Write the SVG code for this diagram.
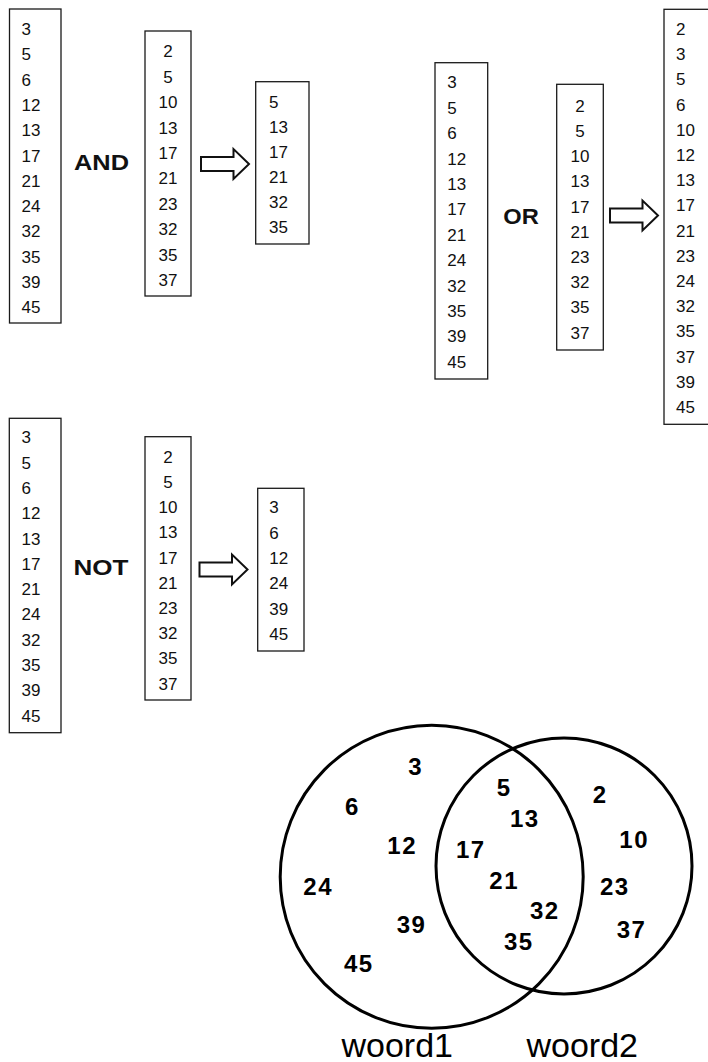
<svg xmlns="http://www.w3.org/2000/svg" xmlns:xlink="http://www.w3.org/1999/xlink" width="708" height="1062" viewBox="0 0 708 1062">
  <style>
    .box { fill: #fff; stroke: #1a1a1a; stroke-width: 1.3; }
    .num { font-family: "Liberation Sans", Arial, sans-serif; font-size: 17px; fill: #111; }
    .mid { text-anchor: middle; }
    .op { font-family: "Liberation Sans", Arial, sans-serif; font-size: 22px; font-weight: bold; fill: #111; }
    .arrow { fill: #fff; stroke: #111; stroke-width: 2; stroke-linejoin: miter; }
    .ring { fill: none; stroke: #000; stroke-width: 3; }
    .vn { font-family: "Liberation Sans", Arial, sans-serif; font-size: 24px; font-weight: bold; letter-spacing: 1.5px; fill: #000; }
    .lbl { font-family: "Liberation Sans", Arial, sans-serif; font-size: 34px; fill: #000; }
  </style>
  <defs>
    <!-- hollow block arrow, origin at the middle of the tail -->
    <path id="blockArrow" d="M0,-7 H32.5 V-15 L48,0 L32.5,15 V7 H0 Z"/>
  </defs>

  <rect width="708" height="1062" fill="#fff"/>

  <!-- AND -->
  <g id="and-list1">
    <rect class="box" x="9.5" y="9" width="51.5" height="314"/>
    <text class="num" x="21.5" y="35">3</text>
    <text class="num" x="21.5" y="60.3">5</text>
    <text class="num" x="21.5" y="85.6">6</text>
    <text class="num" x="21.5" y="110.9">12</text>
    <text class="num" x="21.5" y="136.2">13</text>
    <text class="num" x="21.5" y="161.5">17</text>
    <text class="num" x="21.5" y="186.8">21</text>
    <text class="num" x="21.5" y="212.1">24</text>
    <text class="num" x="21.5" y="237.4">32</text>
    <text class="num" x="21.5" y="262.7">35</text>
    <text class="num" x="21.5" y="288">39</text>
    <text class="num" x="21.5" y="313.3">45</text>
  </g>
  <g id="and-op">
    <text class="op" x="74" y="170" textLength="55" lengthAdjust="spacingAndGlyphs">AND</text>
  </g>
  <g id="and-list2">
    <rect class="box" x="145" y="31" width="46" height="265"/>
    <text class="num mid" x="168" y="57.3">2</text>
    <text class="num mid" x="168" y="82.7">5</text>
    <text class="num mid" x="168" y="108.1">10</text>
    <text class="num mid" x="168" y="133.5">13</text>
    <text class="num mid" x="168" y="158.9">17</text>
    <text class="num mid" x="168" y="184.3">21</text>
    <text class="num mid" x="168" y="209.7">23</text>
    <text class="num mid" x="168" y="235.1">32</text>
    <text class="num mid" x="168" y="260.5">35</text>
    <text class="num mid" x="168" y="285.9">37</text>
  </g>
  <g id="and-result">
    <rect class="box" x="255.7" y="81.7" width="53.3" height="162.3"/>
    <text class="num" x="269" y="107.7">5</text>
    <text class="num" x="269" y="132.8">13</text>
    <text class="num" x="269" y="157.9">17</text>
    <text class="num" x="269" y="183">21</text>
    <text class="num" x="269" y="208.1">32</text>
    <text class="num" x="269" y="233.2">35</text>
  </g>

  <!-- OR -->
  <g id="or-list1">
    <rect class="box" x="435" y="62.7" width="52.7" height="316.3"/>
    <text class="num" x="447.3" y="88.3">3</text>
    <text class="num" x="447.3" y="113.7">5</text>
    <text class="num" x="447.3" y="139.1">6</text>
    <text class="num" x="447.3" y="164.5">12</text>
    <text class="num" x="447.3" y="189.9">13</text>
    <text class="num" x="447.3" y="215.3">17</text>
    <text class="num" x="447.3" y="240.7">21</text>
    <text class="num" x="447.3" y="266.1">24</text>
    <text class="num" x="447.3" y="291.5">32</text>
    <text class="num" x="447.3" y="316.9">35</text>
    <text class="num" x="447.3" y="342.3">39</text>
    <text class="num" x="447.3" y="367.7">45</text>
  </g>
  <g id="or-op">
    <text class="op" x="503.3" y="224" textLength="35.5" lengthAdjust="spacingAndGlyphs">OR</text>
  </g>
  <g id="or-list2">
    <rect class="box" x="556.7" y="84.3" width="46.6" height="265.7"/>
    <text class="num mid" x="580" y="111.7">2</text>
    <text class="num mid" x="580" y="136.9">5</text>
    <text class="num mid" x="580" y="162.1">10</text>
    <text class="num mid" x="580" y="187.3">13</text>
    <text class="num mid" x="580" y="212.5">17</text>
    <text class="num mid" x="580" y="237.7">21</text>
    <text class="num mid" x="580" y="262.9">23</text>
    <text class="num mid" x="580" y="288.1">32</text>
    <text class="num mid" x="580" y="313.3">35</text>
    <text class="num mid" x="580" y="338.5">37</text>
  </g>
  <g id="or-result">
    <rect class="box" x="664" y="9.3" width="60" height="415"/>
    <text class="num" x="676" y="35">2</text>
    <text class="num" x="676" y="60.2">3</text>
    <text class="num" x="676" y="85.4">5</text>
    <text class="num" x="676" y="110.6">6</text>
    <text class="num" x="676" y="135.8">10</text>
    <text class="num" x="676" y="161">12</text>
    <text class="num" x="676" y="186.2">13</text>
    <text class="num" x="676" y="211.4">17</text>
    <text class="num" x="676" y="236.6">21</text>
    <text class="num" x="676" y="261.8">23</text>
    <text class="num" x="676" y="287">24</text>
    <text class="num" x="676" y="312.2">32</text>
    <text class="num" x="676" y="337.4">35</text>
    <text class="num" x="676" y="362.6">37</text>
    <text class="num" x="676" y="387.8">39</text>
    <text class="num" x="676" y="413">45</text>
  </g>

  <!-- NOT -->
  <g id="not-list1">
    <rect class="box" x="9.3" y="418.3" width="51.7" height="314.4"/>
    <text class="num" x="21.5" y="443.3">3</text>
    <text class="num" x="21.5" y="468.6">5</text>
    <text class="num" x="21.5" y="493.9">6</text>
    <text class="num" x="21.5" y="519.2">12</text>
    <text class="num" x="21.5" y="544.5">13</text>
    <text class="num" x="21.5" y="569.8">17</text>
    <text class="num" x="21.5" y="595.1">21</text>
    <text class="num" x="21.5" y="620.4">24</text>
    <text class="num" x="21.5" y="645.7">32</text>
    <text class="num" x="21.5" y="671">35</text>
    <text class="num" x="21.5" y="696.3">39</text>
    <text class="num" x="21.5" y="721.6">45</text>
  </g>
  <g id="not-op">
    <text class="op" x="73.5" y="575" textLength="55" lengthAdjust="spacingAndGlyphs">NOT</text>
  </g>
  <g id="not-list2">
    <rect class="box" x="145" y="436.7" width="46" height="263.3"/>
    <text class="num mid" x="168" y="462.7">2</text>
    <text class="num mid" x="168" y="487.9">5</text>
    <text class="num mid" x="168" y="513.1">10</text>
    <text class="num mid" x="168" y="538.3">13</text>
    <text class="num mid" x="168" y="563.5">17</text>
    <text class="num mid" x="168" y="588.7">21</text>
    <text class="num mid" x="168" y="613.9">23</text>
    <text class="num mid" x="168" y="639.1">32</text>
    <text class="num mid" x="168" y="664.3">35</text>
    <text class="num mid" x="168" y="689.5">37</text>
  </g>
  <g id="not-result">
    <rect class="box" x="257.7" y="488.3" width="46.3" height="162.7"/>
    <text class="num" x="269.3" y="513.3">3</text>
    <text class="num" x="269.3" y="538.6">6</text>
    <text class="num" x="269.3" y="563.9">12</text>
    <text class="num" x="269.3" y="589.2">24</text>
    <text class="num" x="269.3" y="614.5">39</text>
    <text class="num" x="269.3" y="639.8">45</text>
  </g>

  <!-- result arrows -->
  <g id="connectors">
    <use xlink:href="#blockArrow" class="arrow" transform="translate(201,164)"/>
    <use xlink:href="#blockArrow" class="arrow" transform="translate(610,215.5)"/>
    <use xlink:href="#blockArrow" class="arrow" transform="translate(199.5,569.5)"/>
  </g>

  <!-- Venn diagram -->
  <g id="venn-woord1">
    <circle class="ring" cx="431.7" cy="876.7" r="151.5"/>
    <text class="vn" x="408.3" y="775">3</text>
    <text class="vn" x="345" y="815">6</text>
    <text class="vn" x="387.3" y="854.3">12</text>
    <text class="vn" x="303.3" y="895">24</text>
    <text class="vn" x="396.7" y="933.3">39</text>
    <text class="vn" x="344" y="972.3">45</text>
    <text class="lbl" x="341.5" y="1056.5">woord1</text>
  </g>
  <g id="venn-woord2">
    <circle class="ring" cx="564" cy="866" r="128"/>
    <text class="vn" x="592.7" y="803.3">2</text>
    <text class="vn" x="619.3" y="848.3">10</text>
    <text class="vn" x="600" y="895">23</text>
    <text class="vn" x="616.7" y="938.3">37</text>
    <text class="lbl" x="526.5" y="1056.5">woord2</text>
  </g>
  <g id="venn-overlap">
    <text class="vn" x="496.7" y="796">5</text>
    <text class="vn" x="510" y="827.3">13</text>
    <text class="vn" x="456" y="858.3">17</text>
    <text class="vn" x="489.3" y="889">21</text>
    <text class="vn" x="530" y="919.3">32</text>
    <text class="vn" x="504" y="950">35</text>
  </g>
</svg>
